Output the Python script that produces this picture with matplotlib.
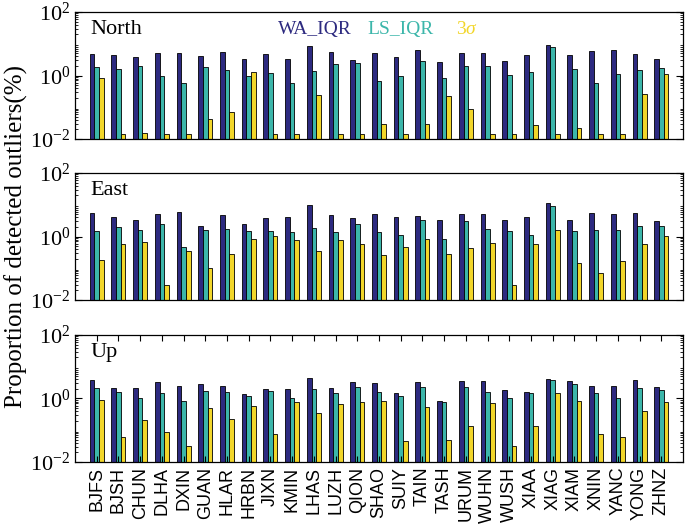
import matplotlib.pyplot as plt
import numpy as np
from matplotlib.ticker import LogLocator, LogFormatterMathtext, NullFormatter

plt.rcParams['font.family'] = ['Liberation Serif', 'DejaVu Serif']
plt.rcParams['mathtext.fontset'] = 'custom'
plt.rcParams['mathtext.rm'] = 'Liberation Serif'
plt.rcParams['mathtext.it'] = 'Liberation Serif:italic'

stations = ['BJFS', 'BJSH', 'CHUN', 'DLHA', 'DXIN', 'GUAN', 'HLAR', 'HRBN', 'JIXN',
            'KMIN', 'LHAS', 'LUZH', 'QION', 'SHAO', 'SUIY', 'TAIN', 'TASH', 'URUM',
            'WUHN', 'WUSH', 'XIAA', 'XIAG', 'XIAM', 'XNIN', 'YANC', 'YONG', 'ZHNZ']

# North
north_wa = [4.7, 4.4, 3.7, 5.2, 5.1, 4.0, 5.5, 3.2, 4.8, 3.35, 8.7, 5.7, 3.1, 5.0,
            3.9, 6.5, 2.75, 5.2, 5.1, 2.8, 4.3, 9.4, 4.4, 6.0, 6.5, 4.7, 3.2]
north_ls = [1.86, 1.57, 2.05, 0.99, 0.6, 1.82, 1.5, 0.94, 1.17, 0.6, 1.43, 2.27, 2.5, 0.65,
            0.99, 2.8, 0.85, 2.05, 1.96, 1.06, 1.32, 8.1, 1.57, 0.59, 1.14, 1.5, 1.69]
north_3s = [0.81, 0.0135, 0.0145, 0.0135, 0.0135, 0.043, 0.072, 1.26, 0.0135, 0.0135, 0.25,
            0.0135, 0.0135, 0.028, 0.0135, 0.028, 0.22, 0.088, 0.0135, 0.0135, 0.026,
            0.0135, 0.021, 0.0135, 0.0135, 0.27, 1.09]

# East
east_wa = [5.7, 4.05, 3.3, 5.3, 5.8, 2.2, 4.8, 2.5, 3.86, 4.25, 9.9, 4.8, 3.86, 5.0,
           4.05, 4.46, 3.3, 5.0, 5.0, 3.26, 4.05, 11.4, 3.26, 5.5, 5.0, 5.5, 3.18]
east_ls = [1.5, 1.92, 1.66, 2.44, 0.47, 1.66, 1.78, 1.5, 1.5, 1.4, 1.83, 1.37, 2.5, 1.37,
           1.1, 3.26, 0.86, 3.1, 1.78, 1.44, 1.13, 9.0, 1.47, 1.6, 1.6, 2.16, 2.1]
east_3s = [0.185, 0.6, 0.68, 0.029, 0.34, 0.1, 0.29, 0.86, 1.05, 0.79, 0.34, 0.77, 0.6, 0.27,
           0.47, 0.84, 0.285, 0.44, 0.63, 0.029, 0.59, 1.6, 0.149, 0.072, 0.172, 0.59, 1.0]

# Up
up_wa = [3.7, 2.16, 2.2, 3.26, 2.44, 2.96, 2.56, 1.34, 2.06, 2.0, 4.46, 2.16, 3.4, 3.0,
         1.47, 3.33, 0.85, 3.5, 3.5, 1.83, 1.58, 4.25, 3.5, 2.44, 2.44, 3.96, 2.38]
up_ls = [2.16, 1.62, 1.0, 1.5, 0.82, 1.74, 1.62, 1.24, 1.66, 1.0, 1.92, 1.44, 2.38, 1.58,
         1.18, 2.27, 0.75, 2.3, 1.58, 1.07, 1.44, 3.86, 2.82, 1.47, 1.07, 2.16, 1.87]
up_3s = [0.89, 0.061, 0.214, 0.09, 0.03, 0.5, 0.22, 0.57, 0.076, 0.75, 0.34, 0.65, 0.77, 0.82,
         0.046, 0.53, 0.05, 0.135, 0.71, 0.03, 0.135, 1.44, 0.85, 0.076, 0.061, 0.39, 0.79]

panels = [('North', north_wa, north_ls, north_3s),
          ('East', east_wa, east_ls, east_3s),
          ('Up', up_wa, up_ls, up_3s)]

c_wa = '#2d2a80'
c_ls = '#3cb6aa'
c_3s = '#f2d62a'

fig = plt.figure(figsize=(6.85, 5.32), dpi=100)
x = np.arange(1, len(stations) + 1)
w = 0.215
bottoms = [0.7387, 0.4361, 0.1316]

for k, (name, wa, ls, s3) in enumerate(panels):
    ax = fig.add_axes([0.1095, bottoms[k], 0.8876, 0.2387])
    ax.bar(x - w, wa, w, bottom=1e-3, color=c_wa, edgecolor='k', linewidth=0.6)
    ax.bar(x, ls, w, bottom=1e-3, color=c_ls, edgecolor='k', linewidth=0.6)
    ax.bar(x + w, s3, w, bottom=1e-3, color=c_3s, edgecolor='k', linewidth=0.6)
    ax.set_yscale('log')
    ax.set_ylim(1e-2, 1e2)
    ax.set_xlim(0, 28)
    ax.set_yticks([1e-2, 1e0, 1e2])
    ax.yaxis.set_major_formatter(LogFormatterMathtext())
    ax.yaxis.set_minor_locator(LogLocator(base=10, subs=np.arange(2, 10), numticks=10))
    ax.yaxis.set_minor_formatter(NullFormatter())
    ax.tick_params(axis='y', which='both', direction='in', left=True, right=True, labelsize=16)
    ax.tick_params(axis='y', which='major', length=5)
    ax.tick_params(axis='y', which='minor', length=2.5)
    for s in ax.spines.values():
        s.set_linewidth(0.9)
    if name == 'Up':
        ax.set_xticks(x)
        ax.set_xticklabels(stations, rotation=90, fontsize=13, family='Liberation Sans')
        ax.tick_params(axis='x', direction='in', top=True, bottom=True, length=4)
    else:
        ax.set_xticks([])
    ax.text(0.025, 0.94, name, transform=ax.transAxes, ha='left', va='top', fontsize=16)

fig.text(0.46, 0.944, 'WA_IQR', color=c_wa, fontsize=14, ha='center', va='center')
fig.text(0.585, 0.944, 'LS_IQR', color=c_ls, fontsize=14, ha='center', va='center')
fig.text(0.682, 0.944, r'$3\sigma$', color=c_3s, fontsize=14, ha='center', va='center')

fig.text(0.024, 0.5555, 'Proportion of detected outliers(%)', rotation=90,
         ha='center', va='center', fontsize=18)

fig.savefig('out.png', dpi=100)
